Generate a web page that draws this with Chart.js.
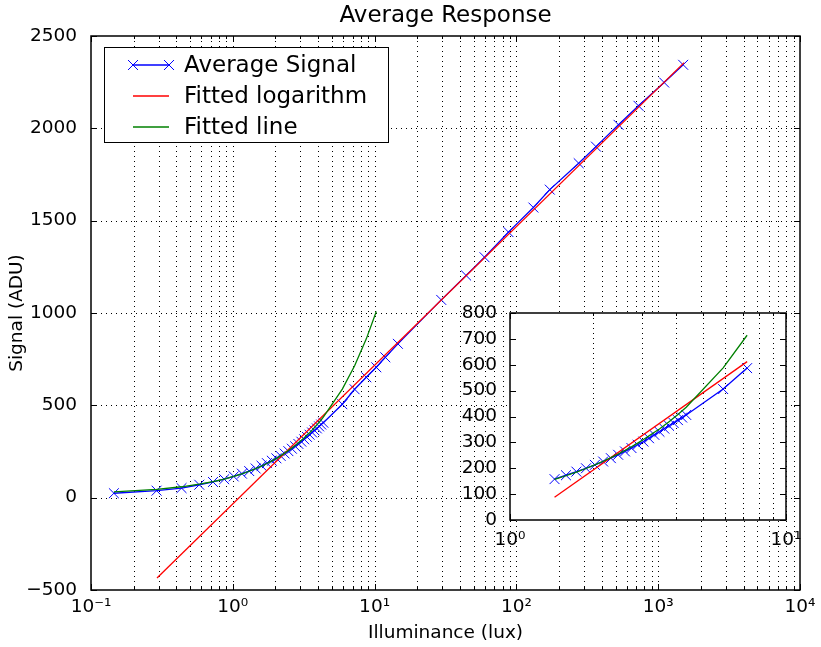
<!DOCTYPE html>
<html><head><meta charset="utf-8">
<script src="https://cdn.jsdelivr.net/npm/chart.js@4.4.0/dist/chart.umd.min.js"></script>
<style>
html,body{margin:0;padding:0;background:#fff;}
#wrap{position:relative;width:821px;height:647px;overflow:hidden;}
#main{position:absolute;left:0;top:0;}
#inset{position:absolute;left:450px;top:290px;}
</style></head><body>
<div id="wrap">
<canvas id="main" width="821" height="647"></canvas>
<canvas id="inset" width="370" height="270"></canvas>
</div>
<script>
// ---------------- data ----------------
const signalX = [0.145, 0.29, 0.435, 0.58, 0.725, 0.87, 1.015, 1.16, 1.305, 1.45, 1.595, 1.74, 1.885, 2.03, 2.175, 2.32, 2.465, 2.61, 2.755, 2.9, 3.045, 3.19, 3.335, 3.48, 3.625, 3.77, 3.915, 4.06, 4.205, 4.35, 5.92, 7.23, 8.74, 10.28, 11.9, 14.6, 29.5, 44.2, 59.6, 87.9, 131.8, 172, 275, 364, 525, 726, 1102, 1500];
const signalY = [24, 38, 52, 70, 85, 100, 115, 130, 144, 158, 173, 187, 200, 213, 226, 239, 252, 265, 278, 291, 303, 316, 329, 341, 353, 364, 375, 386, 396, 406, 506, 587, 652, 706, 760, 833, 1071, 1203, 1302, 1438, 1571, 1668, 1811, 1901, 2019, 2122, 2248, 2344];

const logFitX = [0.292, 1524];
const logFitY = [-435, 2356];

const lineFitX = [0.145, 0.29, 0.435, 0.58, 0.725, 0.87, 1.015, 1.16, 1.305, 1.45, 1.595, 1.74, 1.885, 2.03, 2.175, 2.32, 2.465, 2.61, 2.755, 2.9, 3.045, 3.19, 3.335, 3.48, 3.625, 3.77, 3.915, 4.06, 4.205, 4.35, 5.92, 7.23, 8.74, 10.28];
const lineFitY = [31, 45, 59, 73, 87, 101, 115, 129, 143, 157, 171, 185, 199, 213, 227, 241, 255, 269, 283, 297, 311, 325, 339, 352, 366, 380, 394, 408, 422, 436, 588, 714, 860, 1008];

// inset (zoom on 1..10 lux)
const insetFirstIndex = 9;   // first point of signal shown in inset
const insetLastIndex = 31;   // last point of signal shown in inset
const insetLogFitX = [1.45, 7.23];
const insetLogFitY = [88, 612];

// ticks
const xTickValues = [0.1, 1, 10, 100, 1000, 10000];
const xTickLabels = ['10\u207B\u00B9', '10\u2070', '10\u00B9', '10\u00B2', '10\u00B3', '10\u2074'];
const yTickValues = [-500, 0, 500, 1000, 1500, 2000, 2500];
const yTickLabels = ['\u2212500', '0', '500', '1000', '1500', '2000', '2500'];
const insetXTickValues = [1, 10];
const insetXTickLabels = ['10\u2070', '10\u00B9'];
const insetYTickValues = [0, 100, 200, 300, 400, 500, 600, 700, 800];
const insetYTickLabels = ['0', '100', '200', '300', '400', '500', '600', '700', '800'];

const chartTitle = 'Average Response';
const seriesLabels = ['Average Signal', 'Fitted logarithm', 'Fitted line'];
const seriesColors = ['#0000ff', '#ff0000', '#008000'];

// ---------------- helpers ----------------
const FONT = "'DejaVu Sans', sans-serif";
const toPoints = (xs, ys) => xs.map((x, i) => ({x: x, y: ys[i]}));
function logMinors(majors) {
  const out = [];
  for (let i = 0; i < majors.length - 1; i++) for (let m = 2; m <= 9; m++) out.push(majors[i] * m);
  return out;
}

function framePlugin(o) {
  return {
    id: 'frame',
    beforeDatasetsDraw(chart) {
      const {ctx, chartArea: a, scales: {x, y}} = chart;
      ctx.save();
      if (o.whiteArea) { ctx.fillStyle = '#fff'; ctx.fillRect(a.left, a.top, a.right - a.left, a.bottom - a.top); }
      ctx.strokeStyle = '#000'; ctx.lineWidth = 1; ctx.setLineDash([1, 4]);
      ctx.beginPath();
      const xs = o.xMajors.concat(logMinors(o.xMajors));
      for (const v of xs) {
        const px = Math.round(x.getPixelForValue(v)) + 0.5;
        if (px <= a.left + 2 || px >= a.right - 2) continue;
        ctx.moveTo(px, a.top); ctx.lineTo(px, a.bottom);
      }
      if (o.yGrid) for (const v of o.yMajors) {
        const py = Math.round(y.getPixelForValue(v)) + 0.5;
        if (py <= a.top + 2 || py >= a.bottom - 2) continue;
        ctx.moveTo(a.left, py); ctx.lineTo(a.right, py);
      }
      ctx.stroke();
      ctx.restore();
    },
    afterDatasetsDraw(chart) {
      const {ctx, chartArea: a, scales: {x, y}} = chart;
      ctx.save();
      ctx.strokeStyle = '#000'; ctx.lineWidth = 1; ctx.setLineDash([]);
      ctx.beginPath();
      const tick = (v, len) => {
        const px = Math.round(x.getPixelForValue(v)) + 0.5;
        ctx.moveTo(px, a.bottom); ctx.lineTo(px, a.bottom - len);
        ctx.moveTo(px, a.top); ctx.lineTo(px, a.top + len);
      };
      o.xMajors.forEach(v => tick(v, 6));
      logMinors(o.xMajors).forEach(v => tick(v, 3));
      o.yMajors.forEach(v => {
        const py = Math.round(y.getPixelForValue(v)) + 0.5;
        ctx.moveTo(a.left, py); ctx.lineTo(a.left + 6, py);
        ctx.moveTo(a.right, py); ctx.lineTo(a.right - 6, py);
      });
      ctx.stroke();
      ctx.lineWidth = 1.5;
      ctx.strokeRect(Math.round(a.left), Math.round(a.top), Math.round(a.right - a.left), Math.round(a.bottom - a.top));
      if (o.title) {
        ctx.fillStyle = '#000';
        ctx.font = '23px ' + FONT;
        ctx.textAlign = 'center'; ctx.textBaseline = 'middle';
        ctx.fillText(o.title, (a.left + a.right) / 2, 16);
      }
      ctx.restore();
    }
  };
}

const legendPlugin = {
  id: 'boxLegend',
  afterDraw(chart) {
    const ctx = chart.ctx;
    ctx.save();
    ctx.fillStyle = '#fff';
    ctx.fillRect(104.5, 47.5, 284, 95);
    ctx.strokeStyle = '#000'; ctx.lineWidth = 1;
    ctx.strokeRect(104.5, 47.5, 284, 95);
    chart.data.datasets.forEach((ds, i) => {
      const yy = 65 + i * 31;
      ctx.strokeStyle = ds.borderColor; ctx.lineWidth = 1.3;
      ctx.beginPath(); ctx.moveTo(133, yy); ctx.lineTo(169, yy); ctx.stroke();
      if (ds.pointRadius > 0) {
        ctx.lineWidth = 1;
        [133, 169].forEach(cx => {
          ctx.beginPath();
          ctx.moveTo(cx - 5, yy - 5); ctx.lineTo(cx + 5, yy + 5);
          ctx.moveTo(cx - 5, yy + 5); ctx.lineTo(cx + 5, yy - 5);
          ctx.stroke();
        });
      }
      ctx.fillStyle = '#000';
      ctx.font = '23px ' + FONT;
      ctx.textBaseline = 'middle'; ctx.textAlign = 'left';
      ctx.fillText(ds.label, 184, yy + 1);
    });
    ctx.restore();
  }
};

function datasets(sx, sy, lx, ly, gx, gy) {
  return [
    {label: seriesLabels[0], data: toPoints(sx, sy), borderColor: seriesColors[0], backgroundColor: seriesColors[0],
     borderWidth: 1.3, pointStyle: 'crossRot', pointRadius: 7, pointBorderWidth: 1, pointBorderColor: seriesColors[0],
     pointHoverRadius: 7, tension: 0, fill: false, order: 3},
    {label: seriesLabels[1], data: toPoints(lx, ly), borderColor: seriesColors[1], backgroundColor: seriesColors[1],
     borderWidth: 1.3, pointRadius: 0, tension: 0, fill: false, order: 2},
    {label: seriesLabels[2], data: toPoints(gx, gy), borderColor: seriesColors[2], backgroundColor: seriesColors[2],
     borderWidth: 1.3, pointRadius: 0, tension: 0, fill: false, order: 1}
  ];
}

const tickFont = {family: FONT, size: 18.5};

// ---------------- main chart ----------------
new Chart(document.getElementById('main'), {
  type: 'line',
  data: {datasets: datasets(signalX, signalY, logFitX, logFitY, lineFitX, lineFitY)},
  options: {
    responsive: false, animation: false, devicePixelRatio: 1,
    layout: {padding: {left: 0, right: 21, top: 36, bottom: 0}},
    plugins: {legend: {display: false}, tooltip: {enabled: false}, title: {display: false}},
    scales: {
      x: {
        type: 'logarithmic', min: 0.1, max: 10000,
        grid: {display: false}, border: {display: false},
        afterBuildTicks: s => { s.ticks = xTickValues.map(v => ({value: v, major: true})); },
        afterFit: s => { s.height = 57; },
        ticks: {autoSkip: false, maxRotation: 0, color: '#000', font: tickFont, padding: -2,
                callback: (v, i) => xTickLabels[i]},
        title: {display: true, text: 'Illuminance (lux)', color: '#000', font: {family: FONT, size: 18.5}, padding: {top: 0, bottom: 3}}
      },
      y: {
        type: 'linear', min: -500, max: 2500,
        grid: {display: false}, border: {display: false},
        afterBuildTicks: s => { s.ticks = yTickValues.map(v => ({value: v})); },
        afterFit: s => { s.width = 91; },
        ticks: {autoSkip: false, color: '#000', font: tickFont, padding: 6,
                callback: (v, i) => yTickLabels[i]},
        title: {display: true, text: 'Signal (ADU)', color: '#000', font: {family: FONT, size: 18.5}, padding: {top: 6, bottom: 0}}
      }
    }
  },
  plugins: [framePlugin({xMajors: xTickValues, yMajors: yTickValues, yGrid: true, whiteArea: false, title: chartTitle}), legendPlugin]
});

// ---------------- inset chart ----------------
const insetSX = signalX.slice(insetFirstIndex, insetLastIndex + 1);
const insetSY = signalY.slice(insetFirstIndex, insetLastIndex + 1);
const insetGX = lineFitX.filter(x => x >= insetSX[0] && x <= insetSX[insetSX.length - 1]);
const insetGY = lineFitY.filter((y, i) => lineFitX[i] >= insetSX[0] && lineFitX[i] <= insetSX[insetSX.length - 1]);

new Chart(document.getElementById('inset'), {
  type: 'line',
  data: {datasets: datasets(insetSX, insetSY, insetLogFitX, insetLogFitY, insetGX, insetGY)},
  options: {
    responsive: false, animation: false, devicePixelRatio: 1,
    layout: {padding: {left: 0, right: 34, top: 23, bottom: 0}},
    plugins: {legend: {display: false}, tooltip: {enabled: false}, title: {display: false}},
    scales: {
      x: {
        type: 'logarithmic', min: 1, max: 10,
        grid: {display: false}, border: {display: false},
        afterBuildTicks: s => { s.ticks = insetXTickValues.map(v => ({value: v, major: true})); },
        afterFit: s => { s.height = 40; },
        ticks: {autoSkip: false, maxRotation: 0, color: '#000', font: tickFont, padding: 1,
                callback: (v, i) => insetXTickLabels[i]}
      },
      y: {
        type: 'linear', min: 0, max: 800,
        grid: {display: false}, border: {display: false},
        afterBuildTicks: s => { s.ticks = insetYTickValues.map(v => ({value: v})); },
        afterFit: s => { s.width = 60; },
        ticks: {autoSkip: false, color: '#000', font: tickFont, padding: 5,
                callback: (v, i) => insetYTickLabels[i]}
      }
    }
  },
  plugins: [framePlugin({xMajors: insetXTickValues, yMajors: insetYTickValues, yGrid: false, whiteArea: true})]
});
</script>
</body></html>
